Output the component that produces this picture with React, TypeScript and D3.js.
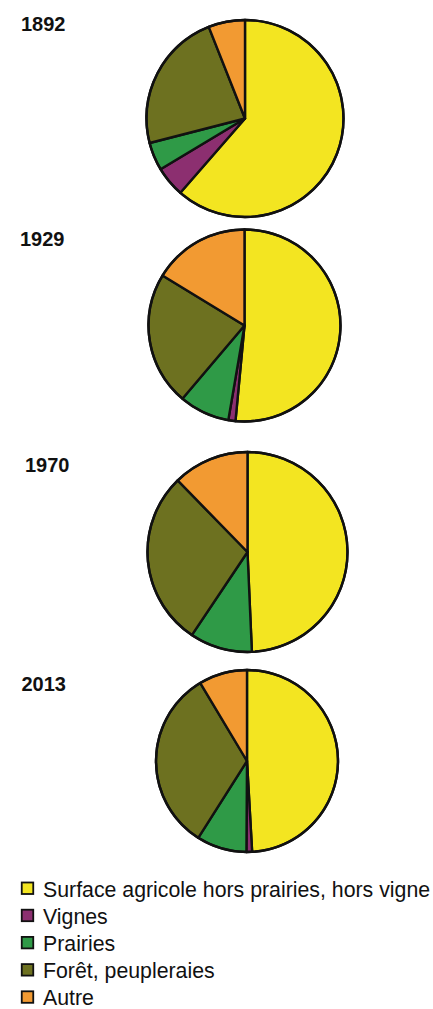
import React from "react";
import * as d3 from "d3";

const years = ["1892", "1929", "1970", "2013"];
const categories = [
  "Surface agricole hors prairies, hors vigne",
  "Vignes",
  "Prairies",
  "Forêt, peupleraies",
  "Autre",
];
const surfaceAgricole = [61.4, 51.5, 49.3, 49.1];
const vignes = [5.0, 1.2, 0, 1.0];
const prairies = [4.6, 8.5, 10.1, 8.9];
const foret = [23.0, 22.5, 28.3, 32.4];
const autre = [6.0, 16.3, 12.3, 8.6];

const colors = ["#f3e521", "#8c2f70", "#2f9a47", "#6d7120", "#f29a32"];

// layout of each pie: centre and radius, plus label position
const layout = [
  { cx: 245, cy: 118.5, r: 98.5, lx: 21, ly: 30.5 },
  { cx: 244.5, cy: 325.5, r: 96, lx: 20, ly: 246 },
  { cx: 247.5, cy: 552, r: 100, lx: 25, ly: 471.5 },
  { cx: 247, cy: 761, r: 91, lx: 21.5, ly: 690.5 },
];

export default function App() {
  const series = [surfaceAgricole, vignes, prairies, foret, autre];
  const pie = d3
    .pie<number>()
    .sort(null)
    .value((d) => d)
    .startAngle(0)
    .endAngle(2 * Math.PI);

  const legendX = 21;
  const legendY0 = 896.5;
  const legendStep = 27.2;

  return (
    <svg
      width={433}
      height={1009}
      style={{ position: "absolute", left: 0, top: 0, background: "#fff" }}
      fontFamily="'Liberation Sans', Arial, Helvetica, sans-serif"
    >
      {years.map((year, i) => {
        const L = layout[i];
        const values = series.map((s) => s[i]);
        const arcs = pie(values);
        const arc = d3.arc<d3.PieArcDatum<number>>().innerRadius(0).outerRadius(L.r);
        return (
          <g key={year}>
            <text x={L.lx} y={L.ly} fontSize={20} fontWeight="bold" fill="#111">
              {year}
            </text>
            <g transform={`translate(${L.cx},${L.cy})`}>
              {arcs.map((a, j) =>
                a.value > 0 ? (
                  <path
                    key={j}
                    d={arc(a) || ""}
                    fill={colors[j]}
                    stroke="#111"
                    strokeWidth={2.4}
                    strokeLinejoin="round"
                  />
                ) : null
              )}
              <circle r={L.r} fill="none" stroke="#111" strokeWidth={2.4} />
            </g>
          </g>
        );
      })}
      {categories.map((c, j) => {
        const y = legendY0 + j * legendStep;
        return (
          <g key={c}>
            <rect
              x={legendX + 0.75}
              y={y - 14}
              width={11.5}
              height={11.5}
              fill={colors[j]}
              stroke="#111"
              strokeWidth={1.8}
            />
            <text x={43} y={y} fontSize={21.3} fill="#111">
              {c}
            </text>
          </g>
        );
      })}
    </svg>
  );
}
